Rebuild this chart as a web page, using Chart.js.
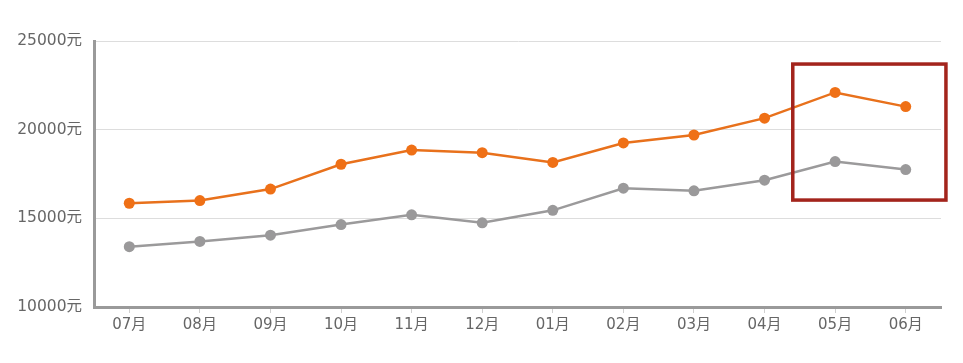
<!DOCTYPE html>
<html>
<head>
<meta charset="utf-8">
<script src="https://cdn.jsdelivr.net/npm/chart.js@4"></script>
<style>
  body { margin: 0; background: #fff; }
  #chart { display: block; }
</style>
</head>
<body>
<canvas id="chart" width="963" height="363"></canvas>
<script>
// Months on the x axis
const months = ["07月", "08月", "09月", "10月", "11月", "12月", "01月", "02月", "03月", "04月", "05月", "06月"];
// Orange series (upper line)
const orangeValues = [15850, 16000, 16650, 18050, 18850, 18700, 18150, 19250, 19700, 20650, 22100, 21300];
// Gray series (lower line)
const grayValues = [13400, 13700, 14050, 14650, 15200, 14750, 15450, 16700, 16550, 17150, 18200, 17750];
// Y axis ticks
const yTicks = [10000, 15000, 20000, 25000];

const FONT = "'DejaVu Sans', 'Noto Sans CJK SC', sans-serif";

// Red highlight box around the last two months
const highlightBox = {
  id: "highlightBox",
  afterDatasetsDraw(chart) {
    const { ctx, scales } = chart;
    const left = scales.x.getPixelForValue(9.4);
    const right = scales.x.getPixelForValue(11.57);
    const top = scales.y.getPixelForValue(23700);
    const bottom = scales.y.getPixelForValue(16030);
    ctx.save();
    ctx.strokeStyle = "#a3241c";
    ctx.lineWidth = 3.5;
    ctx.strokeRect(left, top, right - left, bottom - top);
    ctx.restore();
  },
};

new Chart(document.getElementById("chart"), {
  type: "line",
  data: {
    labels: months,
    datasets: [
      {
        data: orangeValues,
        borderColor: "#e8711c",
        backgroundColor: "#ef7016",
        borderWidth: 2.5,
        pointRadius: 5.5,
        pointBorderWidth: 0,
        tension: 0,
      },
      {
        data: grayValues,
        borderColor: "#9b9a9b",
        backgroundColor: "#9a999a",
        borderWidth: 2.5,
        pointRadius: 5.5,
        pointBorderWidth: 0,
        tension: 0,
      },
    ],
  },
  options: {
    responsive: false,
    animation: false,
    layout: { padding: { top: 41, right: 22, left: 0, bottom: 0 } },
    plugins: {
      legend: { display: false },
      tooltip: { enabled: false },
    },
    scales: {
      x: {
        offset: true,
        afterFit: (scale) => { scale.height = 56; },
        border: { color: "#9a9a9a", width: 3 },
        grid: {
          offset: false,
          drawOnChartArea: false,
          tickLength: 6,
          color: "#d0d0d0",
        },
        ticks: {
          color: "#666",
          padding: 3,
          font: { family: FONT, size: 15 },
          maxRotation: 0,
        },
      },
      y: {
        min: 10000,
        max: 25000,
        afterFit: (scale) => { scale.width = 94; },
        afterBuildTicks: (scale) => {
          scale.ticks = yTicks.map((v) => ({ value: v }));
        },
        border: { color: "#9a9a9a", width: 3 },
        grid: {
          color: "#dddddd",
          lineWidth: 1,
          drawTicks: false,
        },
        ticks: {
          color: "#666",
          padding: 12,
          font: { family: FONT, size: 15.5 },
          callback: (value) => value + "元",
        },
      },
    },
  },
  plugins: [highlightBox],
});
</script>
</body>
</html>
